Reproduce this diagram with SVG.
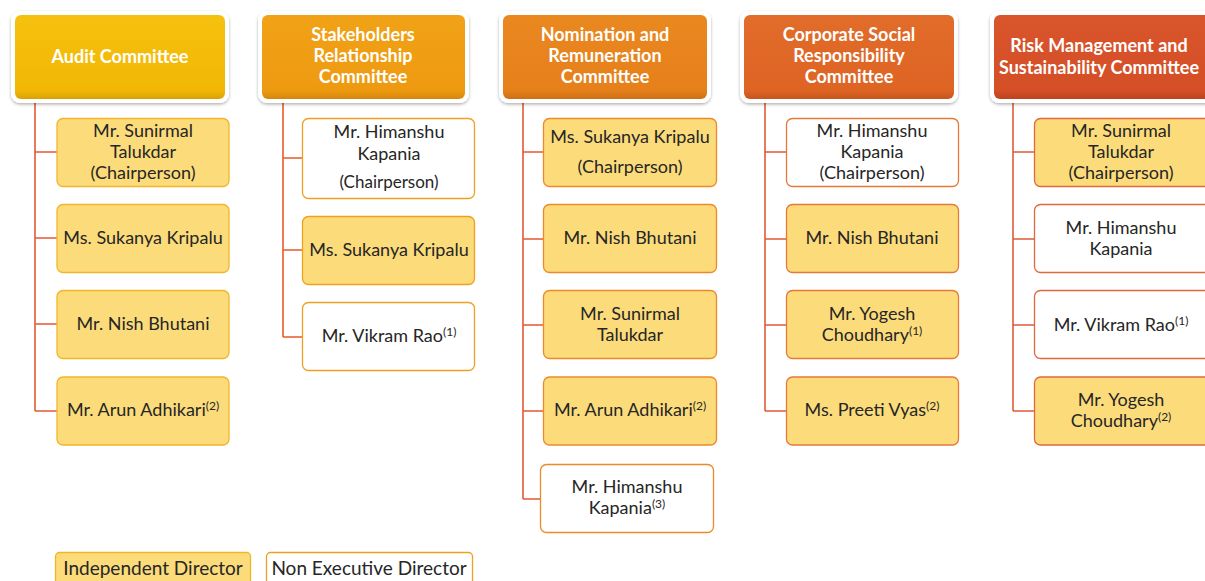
<svg xmlns="http://www.w3.org/2000/svg" width="1205" height="581" viewBox="0 0 1205 581">
<defs>
<filter id="sh" x="-10%" y="-10%" width="120%" height="130%">
<feDropShadow dx="0" dy="1.5" stdDeviation="1.5" flood-color="#000" flood-opacity="0.3"/>
</filter>
<linearGradient id="g1" x1="0" y1="0" x2="0" y2="1"><stop offset="0" stop-color="#F6C10E"/><stop offset="0.9" stop-color="#F2B705"/><stop offset="1" stop-color="#D9A204"/></linearGradient>
<linearGradient id="g2" x1="0" y1="0" x2="0" y2="1"><stop offset="0" stop-color="#F1A216"/><stop offset="0.9" stop-color="#EE9A10"/><stop offset="1" stop-color="#D4870C"/></linearGradient>
<linearGradient id="g3" x1="0" y1="0" x2="0" y2="1"><stop offset="0" stop-color="#EA8820"/><stop offset="0.9" stop-color="#E6801A"/><stop offset="1" stop-color="#CC7016"/></linearGradient>
<linearGradient id="g4" x1="0" y1="0" x2="0" y2="1"><stop offset="0" stop-color="#E26C2A"/><stop offset="0.9" stop-color="#DE6424"/><stop offset="1" stop-color="#C4561E"/></linearGradient>
<linearGradient id="g5" x1="0" y1="0" x2="0" y2="1"><stop offset="0" stop-color="#D9552C"/><stop offset="0.9" stop-color="#D44E26"/><stop offset="1" stop-color="#BA4420"/></linearGradient>
</defs>
<style>
.hdo{fill:#fff;filter:url(#sh)}
.ht{font-family:Lato,"Liberation Sans",sans-serif;font-weight:bold;font-size:18px;fill:#fff;text-anchor:middle}
.mt{font-family:Lato,"Liberation Sans",sans-serif;font-size:18px;fill:#262626;text-anchor:middle}
.sm{font-size:17px}
.lg{font-size:19px}
.sup{font-size:12px}
.ind{fill:#FCDC7A;stroke-width:1.3}
.nex{fill:#fff;stroke-width:1.3}
.c1{stroke:#F2B52A}.c2{stroke:#EFA020}.c3{stroke:#EC8A2A}.c4{stroke:#E6783A}.c5{stroke:#E0683E}
.ln{fill:none;stroke-width:1.6}
</style>

<g id="connectors">
<path class="ln" stroke="#E25A32" d="M35,101 V411 M35,152 H57 M35,238 H57 M35,324 H57 M35,411 H57"/>
<path class="ln" stroke="#E85A2A" d="M283,101 V337 M283,158 H302 M283,250 H302 M283,337 H302"/>
<path class="ln" stroke="#E25A32" d="M523,101 V499 M523,152 H543 M523,239 H543 M523,325 H543 M523,411 H543 M523,499 H540"/>
<path class="ln" stroke="#E05A36" d="M765,101 V411 M765,152 H786 M765,239 H786 M765,325 H786 M765,411 H786"/>
<path class="ln" stroke="#DE5C38" d="M1013,101 V411 M1013,152 H1034 M1013,239 H1034 M1013,325 H1034 M1013,411 H1034"/>
</g>

<g id="h-audit">
<rect class="hdo" x="11" y="11" width="218" height="92" rx="9"/>
<rect x="15" y="15" width="210" height="84" rx="6" fill="url(#g1)"/>
<text class="ht" x="120" y="63">Audit Committee</text>
</g>
<g id="h-stake">
<rect class="hdo" x="258" y="11" width="211" height="92" rx="9"/>
<rect x="262" y="15" width="203" height="84" rx="6" fill="url(#g2)"/>
<text class="ht" x="363" y="41">Stakeholders</text>
<text class="ht" x="363" y="62">Relationship</text>
<text class="ht" x="363" y="83">Committee</text>
</g>
<g id="h-nom">
<rect class="hdo" x="499" y="11" width="212" height="92" rx="9"/>
<rect x="503" y="15" width="204" height="84" rx="6" fill="url(#g3)"/>
<text class="ht" x="605" y="41">Nomination and</text>
<text class="ht" x="605" y="62">Remuneration</text>
<text class="ht" x="605" y="83">Committee</text>
</g>
<g id="h-csr">
<rect class="hdo" x="740" y="11" width="218" height="92" rx="9"/>
<rect x="744" y="15" width="210" height="84" rx="6" fill="url(#g4)"/>
<text class="ht" x="849" y="41">Corporate Social</text>
<text class="ht" x="849" y="62">Responsibility</text>
<text class="ht" x="849" y="83">Committee</text>
</g>
<g id="h-risk">
<rect class="hdo" x="990" y="11" width="225" height="92" rx="9"/>
<rect x="994" y="15" width="217" height="84" rx="6" fill="url(#g5)"/>
<text class="ht" x="1099" y="52">Risk Management and</text>
<text class="ht" x="1099" y="74">Sustainability Committee</text>
</g>

<!-- Audit members -->
<g id="a1"><rect class="ind c1" x="57" y="118.5" width="172" height="68" rx="6"/>
<text class="mt" x="143" y="137">Mr. Sunirmal</text><text class="mt" x="143" y="158">Talukdar</text><text class="mt" x="143" y="179">(Chairperson)</text></g>
<g id="a2"><rect class="ind c1" x="57" y="204.5" width="172" height="68" rx="6"/>
<text class="mt" x="143" y="244">Ms. Sukanya Kripalu</text></g>
<g id="a3"><rect class="ind c1" x="57" y="290.5" width="172" height="68" rx="6"/>
<text class="mt" x="143" y="330">Mr. Nish Bhutani</text></g>
<g id="a4"><rect class="ind c1" x="57" y="377" width="172" height="68" rx="6"/>
<text class="mt" x="143" y="416">Mr. Arun Adhikari<tspan class="sup" dy="-6">(2)</tspan></text></g>

<!-- Stakeholders members -->
<g id="s1"><rect class="nex c2" x="302.5" y="118.5" width="172" height="80" rx="6"/>
<text class="mt" x="389" y="138">Mr. Himanshu</text><text class="mt" x="389" y="160">Kapania</text><text class="mt sm" x="389" y="188">(Chairperson)</text></g>
<g id="s2"><rect class="ind c2" x="302.5" y="216.5" width="172" height="68" rx="6"/>
<text class="mt" x="389" y="256">Ms. Sukanya Kripalu</text></g>
<g id="s3"><rect class="nex c2" x="302.5" y="302.5" width="172" height="68" rx="6"/>
<text class="mt" x="389" y="342">Mr. Vikram Rao<tspan class="sup" dy="-6">(1)</tspan></text></g>

<!-- Nomination members -->
<g id="n1"><rect class="ind c3" x="543.5" y="118.5" width="173" height="68" rx="6"/>
<text class="mt" x="630" y="143">Ms. Sukanya Kripalu</text><text class="mt" x="630" y="173">(Chairperson)</text></g>
<g id="n2"><rect class="ind c3" x="543.5" y="204.5" width="173" height="68" rx="6"/>
<text class="mt" x="630" y="244">Mr. Nish Bhutani</text></g>
<g id="n3"><rect class="ind c3" x="543.5" y="290.5" width="173" height="68" rx="6"/>
<text class="mt" x="630" y="320">Mr. Sunirmal</text><text class="mt" x="630" y="341">Talukdar</text></g>
<g id="n4"><rect class="ind c3" x="543.5" y="377" width="173" height="68" rx="6"/>
<text class="mt" x="630" y="416">Mr. Arun Adhikari<tspan class="sup" dy="-6">(2)</tspan></text></g>
<g id="n5"><rect class="nex c3" x="540.5" y="464.5" width="173" height="68" rx="6"/>
<text class="mt" x="627" y="493">Mr. Himanshu</text><text class="mt" x="627" y="514">Kapania<tspan class="sup" dy="-6">(3)</tspan></text></g>

<!-- CSR members -->
<g id="c1"><rect class="nex c4" x="786.5" y="118.5" width="172" height="68" rx="6"/>
<text class="mt" x="872" y="137">Mr. Himanshu</text><text class="mt" x="872" y="158">Kapania</text><text class="mt" x="872" y="179">(Chairperson)</text></g>
<g id="c2"><rect class="ind c4" x="786.5" y="204.5" width="172" height="68" rx="6"/>
<text class="mt" x="872" y="244">Mr. Nish Bhutani</text></g>
<g id="c3"><rect class="ind c4" x="786.5" y="290.5" width="172" height="68" rx="6"/>
<text class="mt" x="872" y="320">Mr. Yogesh</text><text class="mt" x="872" y="341">Choudhary<tspan class="sup" dy="-6">(1)</tspan></text></g>
<g id="c4"><rect class="ind c4" x="786.5" y="377" width="172" height="68" rx="6"/>
<text class="mt" x="872" y="416">Ms. Preeti Vyas<tspan class="sup" dy="-6">(2)</tspan></text></g>

<!-- Risk members -->
<g id="r1"><rect class="ind c5" x="1034.5" y="118.5" width="176" height="68" rx="6"/>
<text class="mt" x="1121" y="137">Mr. Sunirmal</text><text class="mt" x="1121" y="158">Talukdar</text><text class="mt" x="1121" y="179">(Chairperson)</text></g>
<g id="r2"><rect class="nex c5" x="1034.5" y="204.5" width="176" height="68" rx="6"/>
<text class="mt" x="1121" y="234">Mr. Himanshu</text><text class="mt" x="1121" y="255">Kapania</text></g>
<g id="r3"><rect class="nex c5" x="1034.5" y="290.5" width="176" height="68" rx="6"/>
<text class="mt" x="1121" y="331">Mr. Vikram Rao<tspan class="sup" dy="-6">(1)</tspan></text></g>
<g id="r4"><rect class="ind c5" x="1034.5" y="377" width="176" height="68" rx="6"/>
<text class="mt" x="1121" y="406">Mr. Yogesh</text><text class="mt" x="1121" y="427">Choudhary<tspan class="sup" dy="-6">(2)</tspan></text></g>

<!-- Legend -->
<g id="legend-ind"><rect class="ind c1" x="55.5" y="552.5" width="195" height="40" rx="4"/>
<text class="mt lg" x="153" y="575">Independent Director</text></g>
<g id="legend-nex"><rect class="nex c2" x="266.5" y="552.5" width="206" height="40" rx="4"/>
<text class="mt lg" x="369" y="575">Non Executive Director</text></g>
</svg>
